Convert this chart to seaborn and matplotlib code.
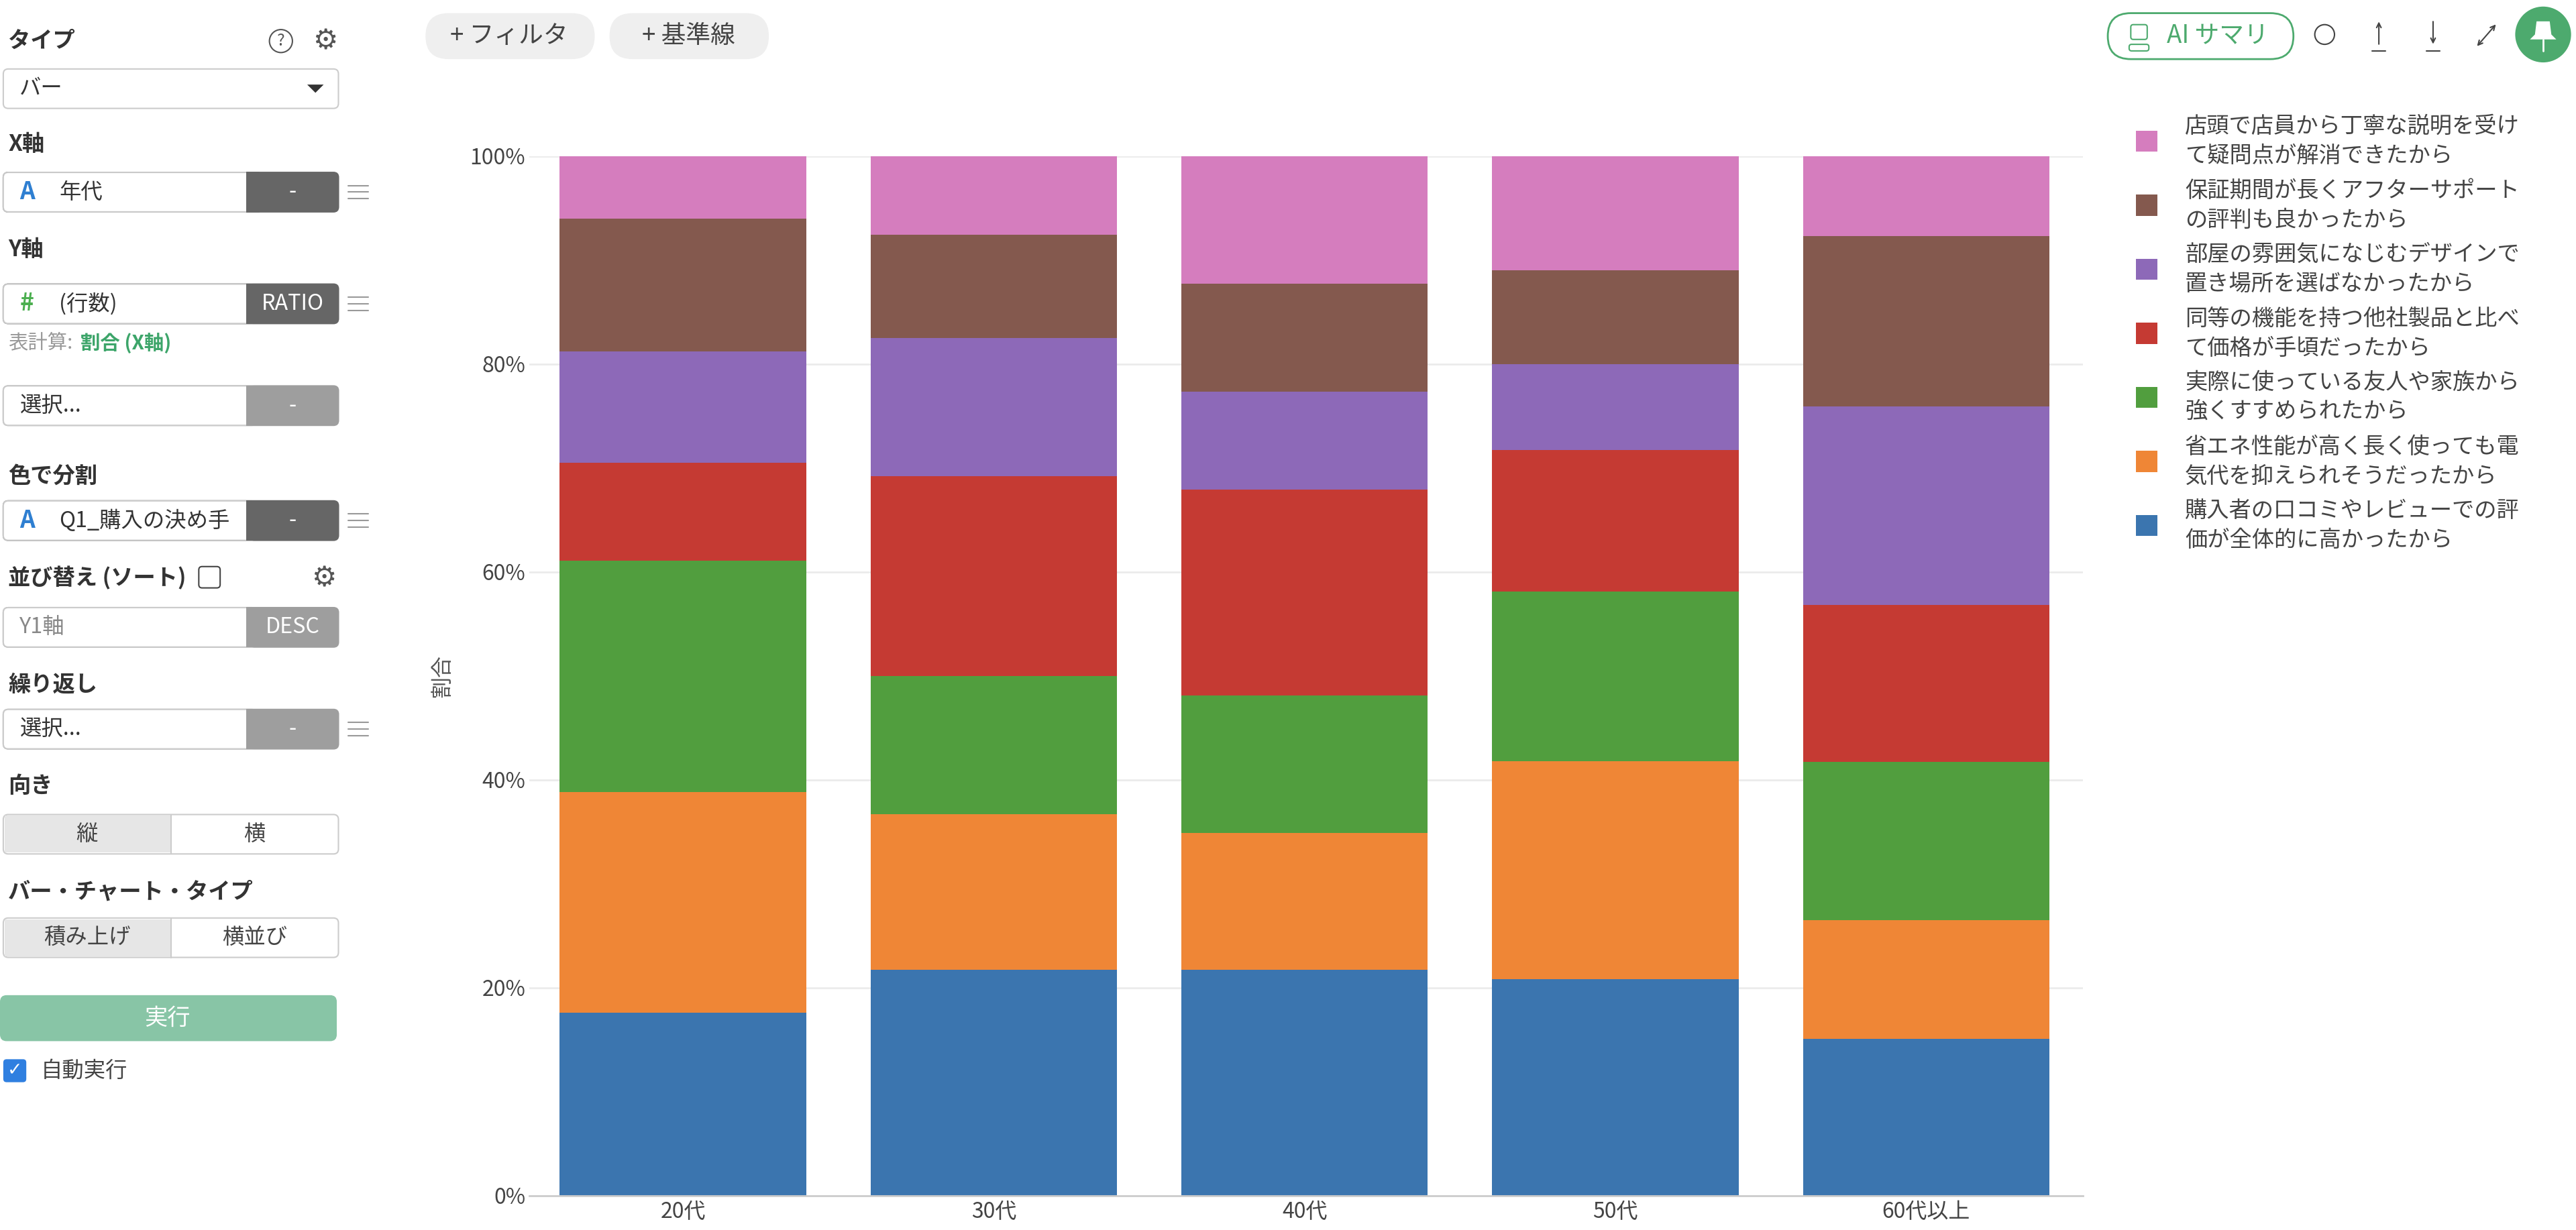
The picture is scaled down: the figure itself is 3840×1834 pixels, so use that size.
import pandas as pd
import matplotlib
matplotlib.use('Agg')
import matplotlib.pyplot as plt
from matplotlib.patches import FancyBboxPatch, Rectangle, Circle, Polygon
from matplotlib.ticker import PercentFormatter
import seaborn as sns

# データ（割合 %、凡例の上から順）
ages = ['20代', '30代', '40代', '50代', '60代以上']
reasons = [
    '店頭で店員から丁寧な説明を受けて疑問点が解消できたから',
    '保証期間が長くアフターサポートの評判も良かったから',
    '部屋の雰囲気になじむデザインで置き場所を選ばなかったから',
    '同等の機能を持つ他社製品と比べて価格が手頃だったから',
    '実際に使っている友人や家族から強くすすめられたから',
    '省エネ性能が高く長く使っても電気代を抑えられそうだったから',
    '購入者の口コミやレビューでの評価が全体的に高かったから',
]
ratio_tento = [6.0, 7.6, 12.3, 11.0, 7.7]
ratio_hosho = [12.8, 9.9, 10.4, 9.0, 16.4]
ratio_design = [10.7, 13.3, 9.4, 8.3, 19.1]
ratio_kakaku = [9.4, 19.2, 19.8, 13.6, 15.1]
ratio_tomo = [22.3, 13.3, 13.2, 16.3, 15.2]
ratio_shoene = [21.2, 15.0, 13.2, 21.0, 11.4]
ratio_kuchikomi = [17.6, 21.7, 21.7, 20.8, 15.1]
colors = ['#D57DBE', '#84594E', '#8D69B8', '#C53A33', '#519E3E', '#EF8636', '#3B75AF']

ratios = [ratio_tento, ratio_hosho, ratio_design, ratio_kakaku,
          ratio_tomo, ratio_shoene, ratio_kuchikomi]
rows = []
for reason, vals in zip(reasons, ratios):
    for age, v in zip(ages, vals):
        rows.append({'年代': age, '理由': reason, '割合': v})
df = pd.DataFrame(rows)
df['年代'] = pd.Categorical(df['年代'], categories=ages, ordered=True)

sns.set_theme(style='white')
plt.rcParams['font.family'] = ['Noto Sans CJK JP', 'DejaVu Sans']

fig = plt.figure(figsize=(38.4, 18.34), dpi=100)
fig.patch.set_facecolor('white')

# メインチャート
ax = fig.add_axes([0.2054, 0.028, 0.6033, 0.8452])
sns.histplot(data=df, x='年代', weights='割合', hue='理由', hue_order=reasons,
             palette=colors, multiple='fill', discrete=True, shrink=0.793,
             alpha=1, linewidth=0, legend=False, ax=ax)
ax.set_xlim(-0.495, 4.505)
ax.set_ylim(0, 1)
ax.set_yticks([0, 0.2, 0.4, 0.6, 0.8, 1.0])
ax.yaxis.set_major_formatter(PercentFormatter(1.0, decimals=0))
ax.set_xticks(range(len(ages)))
ax.set_xticklabels(ages)
ax.grid(axis='y', color='#ebebeb', linewidth=2)
ax.set_axisbelow(True)
for s in ['top', 'right', 'left']:
    ax.spines[s].set_visible(False)
ax.spines['bottom'].set_color('#cccccc')
ax.spines['bottom'].set_linewidth(2)
ax.tick_params(axis='both', length=0, labelsize=23, labelcolor='#444444')
ax.tick_params(axis='x', pad=6)
ax.tick_params(axis='y', pad=4)
ax.set_xlabel('')
ax.set_ylabel('割合', fontsize=23, color='#555555', labelpad=18)

# UI 部分（表示座標 1568x749 を使う）
ui = fig.add_axes([0, 0, 1, 1])
ui.set_xlim(0, 1568)
ui.set_ylim(749, 0)
ui.axis('off')
ui.patch.set_alpha(0)

PT = 1.763  # 表示px -> pt


def rbox(x0, y0, x1, y1, fc, ec='none', r=3, lw=1.5, z=2):
    p = FancyBboxPatch((x0, y0), x1 - x0, y1 - y0,
                       boxstyle=f'round,pad=0,rounding_size={r}',
                       fc=fc, ec=ec, lw=lw, zorder=z)
    ui.add_patch(p)


def txt(x, y, s, size=13.2, color='#333333', weight='normal', ha='left', **kw):
    ui.text(x, y, s, fontsize=size * PT, color=color, fontweight=weight,
            ha=ha, va='center', zorder=5, **kw)


def menu_icon(x, y):
    for dy in (-4, 0, 4):
        ui.plot([x, x + 12], [y + dy, y + dy], color='#999999', lw=1.5, zorder=5)


def field(y0, y1, left_text, seg_text, seg_color, icon=None, icon_color=None,
          left_color='#333333', menu=True):
    rbox(2, y0, 206, y1, seg_color, seg_color, r=3)
    rbox(2, y0, 156, y1, 'white', '#cccccc', r=3, z=3)
    ui.add_patch(Rectangle((150, y0 - 0.3), 8, y1 - y0 + 0.6, fc=seg_color,
                           ec='none', zorder=4))
    yc = (y0 + y1) / 2
    if icon:
        txt(12, yc, icon, size=14.5, color=icon_color, weight='bold')
        txt(36, yc, left_text, color=left_color)
    else:
        txt(12, yc, left_text, color=left_color)
    txt(178, yc, seg_text, color='white', ha='center')
    if menu:
        menu_icon(212, yc)


def segmented(y0, y1, left, right):
    rbox(2, y0, 206, y1, 'white', '#cccccc', r=3)
    ui.add_patch(Rectangle((2.8, y0 + 0.8), 101, y1 - y0 - 1.6, fc='#e6e6e6',
                           ec='none', zorder=3))
    ui.plot([104, 104], [y0, y1], color='#cccccc', lw=1.5, zorder=4)
    txt(53, (y0 + y1) / 2, left, ha='center', color='#444444')
    txt(155, (y0 + y1) / 2, right, ha='center', color='#444444')


GEAR = dict(family=['DejaVu Sans'])

# サイドバー
txt(5, 25, 'タイプ', size=13.6, weight='bold')
ui.add_patch(Circle((171, 25), 7, fc='none', ec='#555555', lw=1.5, zorder=5))
txt(171, 25, '?', size=10, color='#555555', ha='center')
txt(198, 25, '⚙', size=17, color='#555555', ha='center', **GEAR)

rbox(2, 42, 206, 66, 'white', '#cccccc', r=3)
txt(12, 54, 'バー')
ui.add_patch(Polygon([[187, 51.5], [197, 51.5], [192, 56.5]], fc='#333333',
                     ec='none', zorder=5))

txt(5, 88, 'X軸', size=13.6, weight='bold')
field(105, 129, '年代', '-', '#666666', icon='A', icon_color='#2F7FD1')

txt(5, 152, 'Y軸', size=13.6, weight='bold')
field(173, 197, '(行数)', 'RATIO', '#666666', icon='#', icon_color='#4CAF50')
txt(5, 209, '表計算:', size=12, color='#999999')
txt(49, 209, '割合 (X軸)', size=12, color='#3DA56A', weight='bold')

field(235, 259, '選択...', '-', '#9e9e9e', menu=False)

txt(5, 290, '色で分割', size=13.6, weight='bold')
field(305, 329, 'Q1_購入の決め手', '-', '#666666', icon='A', icon_color='#2F7FD1')

txt(5, 352, '並び替え (ソート)', size=13.6, weight='bold')
rbox(121, 345, 134, 358, 'white', '#444444', r=2, lw=1.5)
txt(197, 352, '⚙', size=17, color='#555555', ha='center', **GEAR)
field(370, 394, 'Y1軸', 'DESC', '#9e9e9e', left_color='#888888', menu=False)

txt(5, 417, '繰り返し', size=13.6, weight='bold')
field(432, 456, '選択...', '-', '#9e9e9e')

txt(5, 479, '向き', size=13.6, weight='bold')
segmented(496, 520, '縦', '横')

txt(5, 543, 'バー・チャート・タイプ', size=13.6, weight='bold')
segmented(559, 583, '積み上げ', '横並び')

rbox(0, 606, 205, 634, '#88C5A6', 'none', r=4)
txt(102, 620, '実行', size=14, color='white', ha='center')

rbox(2, 645, 16, 659, '#2F7FE0', 'none', r=2)
txt(9, 652, '✓', size=11, color='white', ha='center', weight='bold', **GEAR)
txt(25, 652, '自動実行', color='#444444')

# 上部ボタン
rbox(259, 8, 362, 36, '#efefef', 'none', r=14)
txt(310, 22, '+ フィルタ', size=15, color='#444444', ha='center')
rbox(371, 8, 468, 36, '#efefef', 'none', r=14)
txt(419, 22, '+ 基準線', size=15, color='#444444', ha='center')

rbox(1283, 8, 1396, 36, 'white', '#4DAA6E', r=14, lw=2)
rbox(1297, 15, 1307, 24, 'none', '#4DAA6E', r=1.5, lw=1.5)
rbox(1296, 27, 1308, 31, 'none', '#4DAA6E', r=1.5, lw=1.5)
txt(1350, 22, 'AI サマリ', size=15, color='#4DAA6E', ha='center')

ui.add_patch(Circle((1415, 21), 6, fc='none', ec='#444444', lw=1.5, zorder=5))
ui.plot([1444, 1452], [31, 31], color='#444444', lw=1.5, zorder=5)
ui.annotate('', xy=(1448, 12), xytext=(1448, 28),
            arrowprops=dict(arrowstyle='->', color='#444444', lw=1.5))
ui.plot([1477, 1485], [31, 31], color='#444444', lw=1.5, zorder=5)
ui.annotate('', xy=(1481, 28), xytext=(1481, 12),
            arrowprops=dict(arrowstyle='->', color='#444444', lw=1.5))
ui.annotate('', xy=(1520, 14), xytext=(1507, 29),
            arrowprops=dict(arrowstyle='<->', color='#444444', lw=1.5))

ui.add_patch(Circle((1548, 21), 17, fc='#4DAA6E', ec='none', zorder=5))
ui.add_patch(Polygon([[1544, 13], [1552, 13], [1553, 21], [1556, 24],
                      [1540, 24], [1543, 21]], fc='white', ec='none', zorder=6))
ui.plot([1548, 1548], [24, 31], color='white', lw=2, zorder=6)

# 凡例（手動）
for i, (reason, c) in enumerate(zip(reasons, colors)):
    yc = 86 + i * 39
    ui.add_patch(Rectangle((1300, yc - 6.5), 13, 13, fc=c, ec='none', zorder=5))
    txt(1330, yc - 9, reason[:15], size=13.6, color='#444444')
    txt(1330, yc + 9, reason[15:], size=13.6, color='#444444')

fig.savefig('out.png', dpi=100, facecolor='white')
